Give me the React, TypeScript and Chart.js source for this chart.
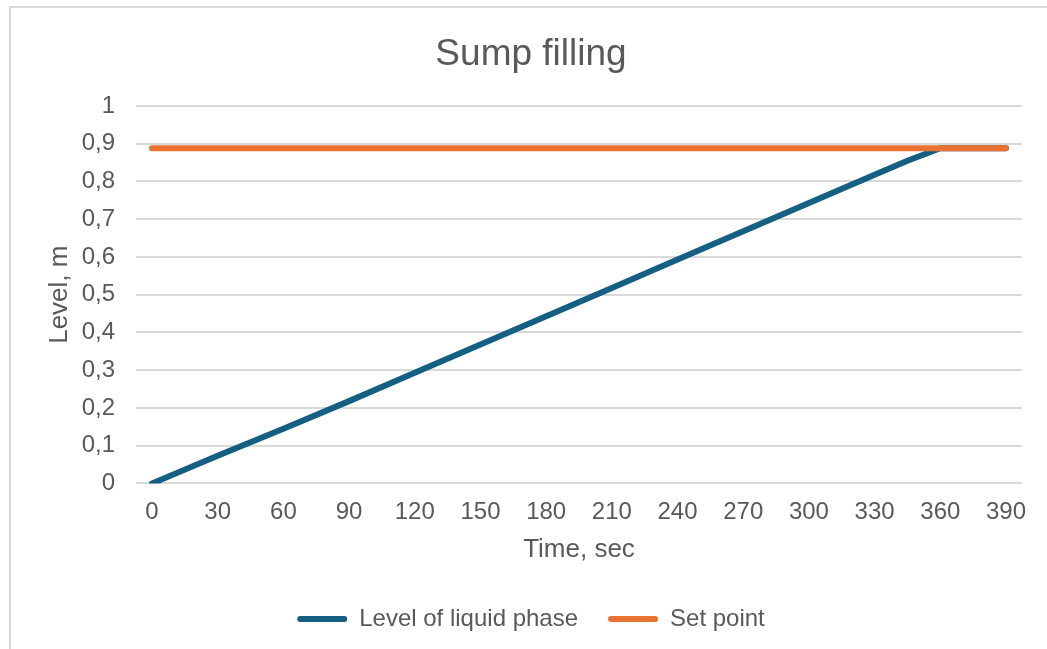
import React, { useEffect, useRef } from "react";
import { Chart, registerables } from "chart.js";

Chart.register(...registerables);

// ---- data ----
const timeSec = [0, 30, 60, 90, 120, 150, 180, 210, 240, 270, 300, 330, 345, 360, 390];
const liquidLevel = [0, 0.073, 0.145, 0.218, 0.293, 0.368, 0.443, 0.518, 0.593, 0.668, 0.743, 0.818, 0.855, 0.888, 0.888];
const setPointTime = [0, 390];
const setPointLevel = [0.888, 0.888];
const xTicks = [0, 30, 60, 90, 120, 150, 180, 210, 240, 270, 300, 330, 360, 390];
const yTicks = [0, 0.1, 0.2, 0.3, 0.4, 0.5, 0.6, 0.7, 0.8, 0.9, 1];
const yTickLabels = ["0", "0,1", "0,2", "0,3", "0,4", "0,5", "0,6", "0,7", "0,8", "0,9", "1"];
const seriesNames = ["Level of liquid phase", "Set point"];

const FONT = "'Liberation Sans', Arial, Helvetica, sans-serif";
const TEXT = "#595959";
const GRID = "#d9d9d9";
const BLUE = "#156082";
const ORANGE = "#e97132";

export default function App() {
  const ref = useRef<HTMLCanvasElement | null>(null);

  useEffect(() => {
    if (!ref.current) return;
    const chart = new Chart(ref.current, {
      type: "line",
      data: {
        datasets: [
          {
            label: seriesNames[0],
            data: timeSec.map((t, i) => ({ x: t, y: liquidLevel[i] })),
            borderColor: BLUE,
            backgroundColor: BLUE,
            borderWidth: 6,
            borderCapStyle: "round",
            borderJoinStyle: "round",
            pointRadius: 0,
            tension: 0,
            fill: false,
            order: 1,
          },
          {
            label: seriesNames[1],
            data: setPointTime.map((t, i) => ({ x: t, y: setPointLevel[i] })),
            borderColor: ORANGE,
            backgroundColor: ORANGE,
            borderWidth: 6,
            borderCapStyle: "round",
            borderJoinStyle: "round",
            pointRadius: 0,
            tension: 0,
            fill: false,
            order: 0,
          },
        ],
      },
      options: {
        animation: false,
        responsive: false,
        maintainAspectRatio: false,
        layout: { padding: { left: 30, right: 30, top: 0, bottom: 0 } },
        plugins: {
          title: {
            display: true,
            text: "Sump filling",
            color: TEXT,
            font: { family: FONT, size: 37, weight: "normal" },
            padding: { top: 25.8, bottom: 28.8 },
          },
          legend: {
            position: "bottom",
            labels: {
              color: TEXT,
              font: { family: FONT, size: 24 },
              boxWidth: 50,
              boxHeight: 6,
              padding: 30,
              useBorderRadius: true,
              borderRadius: 3,
              sort: (a: any, b: any) => a.datasetIndex - b.datasetIndex,
              generateLabels: (c: any) =>
                (Chart.defaults.plugins.legend.labels as any)
                  .generateLabels(c)
                  .map((l: any) => ({ ...l, fillStyle: l.strokeStyle, lineWidth: 0 })),
            },
          },
          tooltip: { enabled: false },
        },
        scales: {
          x: {
            type: "linear",
            min: -7.31,
            max: 397.31,
            afterBuildTicks: (s: any) => {
              s.ticks = xTicks.map((v) => ({ value: v }));
            },
            afterFit: (s: any) => {
              s.height = 93.6;
            },
            ticks: {
              color: TEXT,
              font: { family: FONT, size: 24 },
              padding: 14.6,
              maxRotation: 0,
              autoSkip: false,
              callback: (v: any) => String(v),
            },
            grid: { display: false, drawTicks: false },
            border: { display: false },
            title: {
              display: true,
              text: "Time, sec",
              color: TEXT,
              font: { family: FONT, size: 26 },
              padding: { top: 0, bottom: 12 },
            },
          },
          y: {
            type: "linear",
            min: 0,
            max: 1,
            afterBuildTicks: (s: any) => {
              s.ticks = yTicks.map((v) => ({ value: v }));
            },
            afterFit: (s: any) => {
              s.width = 96;
            },
            ticks: {
              color: TEXT,
              font: { family: FONT, size: 24 },
              padding: 21,
              callback: (_v: any, i: number) => yTickLabels[i],
            },
            grid: { color: GRID, lineWidth: 2, drawTicks: false },
            border: { display: false },
            title: {
              display: true,
              text: "Level, m",
              color: TEXT,
              font: { family: FONT, size: 26 },
              padding: { top: 4.4, bottom: 0 },
            },
          },
        },
      },
    } as any);
    return () => chart.destroy();
  }, []);

  return (
    <div style={{ position: "fixed", left: 0, top: 0, width: 1047, height: 649, overflow: "hidden", background: "#fff" }}>
      <div
        style={{
          position: "absolute",
          left: 9,
          top: 6,
          width: 1100,
          height: 700,
          border: `2px solid ${GRID}`,
          boxSizing: "border-box",
        }}
      />
      <canvas
        ref={ref}
        width={1042}
        height={634}
        style={{ position: "absolute", left: 10, top: 7, width: 1042, height: 634 }}
      />
    </div>
  );
}
